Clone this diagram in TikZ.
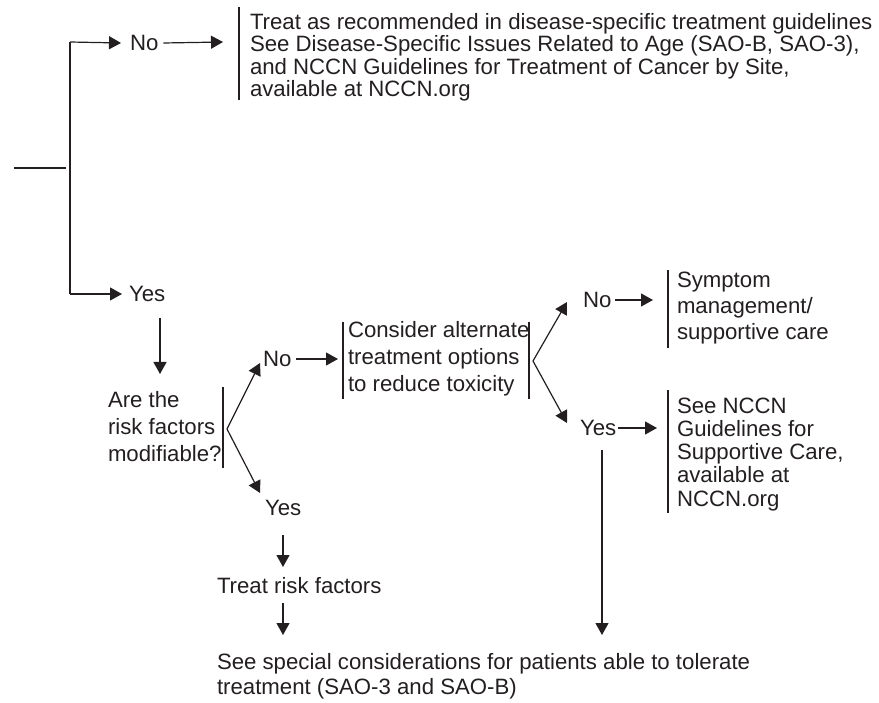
\documentclass[tikz,border=0pt]{standalone}
\usepackage{fontspec}
\setmainfont{Liberation Sans}
\usetikzlibrary{arrows.meta}
\definecolor{ink}{HTML}{231F20}
\newcommand\lead[1]{\fontsize{22.2pt}{#1pt}\selectfont}
\begin{document}
\begin{tikzpicture}[x=1pt,y=-1pt,
  txt/.style={inner sep=0pt, outer sep=0pt, text=ink, align=left},
  arr/.style={-{Triangle[length=12pt,width=13pt]}, line width=1.2pt, draw=ink},
  ln/.style={line width=1.2pt, draw=ink},
  bar/.style={line width=1.1pt, draw=ink}]
\useasboundingbox (0,0) rectangle (879,703);

% text nodes
\node[txt, font=\lead{22.5}, anchor=north west] (t1) at (250,13.2)
  {Treat as recommended in disease-specific treatment guidelines\\
   See Disease-Specific Issues Related to Age (SAO-B, SAO-3),\\
   and NCCN Guidelines for Treatment of Cancer by Site,\\
   available at NCCN.org};
\node[txt, font=\lead{22.5}, anchor=west] (no1) at (130,43) {No};
\node[txt, font=\lead{22.5}, anchor=west] (yes1) at (129,294) {Yes};
\node[txt, font=\lead{27}, anchor=north west] (q) at (108,391.7)
  {Are the\\risk factors\\modifiable?};
\node[txt, font=\lead{22.5}, anchor=west] (no2) at (263,359) {No};
\node[txt, font=\lead{26.7}, anchor=north west] (c) at (348,321.9)
  {Consider alternate\\treatment options\\to reduce toxicity};
\node[txt, font=\lead{22.5}, anchor=west] (yes2) at (265,508) {Yes};
\node[txt, font=\lead{22.5}, anchor=base west] (trf) at (217,593) {Treat risk factors};
\node[txt, font=\lead{25}, anchor=north west] (bot) at (217,653.7)
  {See special considerations for patients able to tolerate\\
   treatment (SAO-3 and SAO-B)};
\node[txt, font=\lead{22.5}, anchor=west] (no3) at (583,300) {No};
\node[txt, font=\lead{26}, anchor=north west] (s) at (677,272.2)
  {Symptom\\management/\\supportive care};
\node[txt, font=\lead{22.5}, anchor=west] (yes3) at (580,428) {Yes};
\node[txt, font=\lead{23.3}, anchor=north west] (g) at (677,397.5)
  {See NCCN\\Guidelines for\\Supportive Care,\\available at\\NCCN.org};

% coordinates
\coordinate (in0) at (14,168);
\coordinate (in1) at (66,168);
\coordinate (vtop) at (70,42);
\coordinate (vbot) at (70,294);
\coordinate (t1in) at (223,42);
\coordinate (d1a) at (160,318);
\coordinate (d1b) at (160,374);
\coordinate (qv) at (227,429);
\coordinate (qno) at (260,363);
\coordinate (qyes) at (260,493);
\coordinate (cin) at (338,359);
\coordinate (cv) at (533,361);
\coordinate (cno) at (567,302);
\coordinate (cyes) at (567,423);
\coordinate (sin) at (653,300);
\coordinate (gin) at (657,428);
\coordinate (la) at (602,450);
\coordinate (lb) at (602,635);
\coordinate (y2a) at (283,535);
\coordinate (y2b) at (283,567);
\coordinate (tra) at (283,603);
\coordinate (trb) at (283,635);

% bars
\draw[bar] (239,7) -- (239,100);
\draw[bar] (223,387) -- (223,468);
\draw[bar] (343,322) -- (343,399);
\draw[bar] (529,322) -- (529,399);
\draw[bar] (668,270) -- (668,348);
\draw[bar] (668,390) -- (668,513);

% connectors
\draw[ln] (in0) -- (in1);
\draw[ln] (vtop) -- (vbot);
\draw[arr] (vtop) -- ([xshift=-9pt]no1.west);
\draw[arr] ([xshift=5pt]no1.east) -- (t1in);
\draw[arr] (vbot) -- ([xshift=-7pt]yes1.west);
\draw[arr] (d1a) -- (d1b);
\draw[arr] (qv) -- (qno);
\draw[arr] (qv) -- (qyes);
\draw[arr] ([xshift=5pt]no2.east) -- (cin);
\draw[arr] (cv) -- (cno);
\draw[arr] (cv) -- (cyes);
\draw[arr] ([xshift=4pt]no3.east) -- (sin);
\draw[arr] ([xshift=2pt]yes3.east) -- (gin);
\draw[arr] (la) -- (lb);
\draw[arr] (y2a) -- (y2b);
\draw[arr] (tra) -- (trb);
\end{tikzpicture}
\end{document}
